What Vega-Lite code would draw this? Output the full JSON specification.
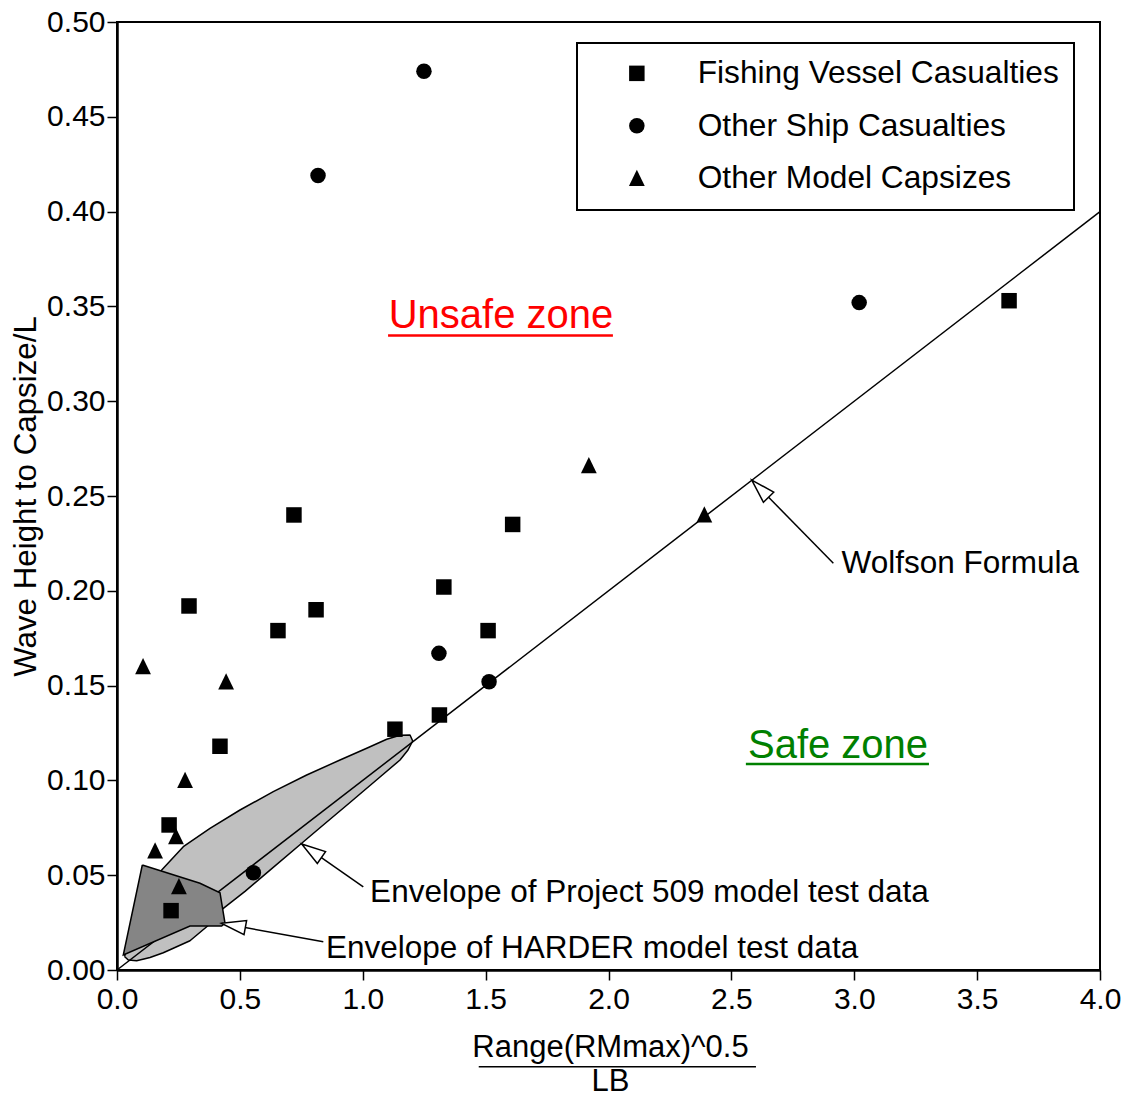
{
  "$schema": "https://vega.github.io/schema/vega-lite/v6.json",
  "width": 983,
  "height": 948,
  "autosize": {"type": "none"},
  "padding": {"left": 117, "top": 22, "right": 29, "bottom": 127},
  "background": "white",
  "config": {
    "font": "Liberation Sans",
    "view": {"stroke": "black", "strokeWidth": 2},
    "legend": {"strokeWidth": 2, "strokeColor": "black", "fillColor": "white"}
  },
  "datasets": {
    "points": [
      {"type": "Fishing Vessel Casualties", "x": 3.63, "y": 0.353},
      {"type": "Fishing Vessel Casualties", "x": 0.72, "y": 0.240},
      {"type": "Fishing Vessel Casualties", "x": 1.61, "y": 0.235},
      {"type": "Fishing Vessel Casualties", "x": 1.33, "y": 0.202},
      {"type": "Fishing Vessel Casualties", "x": 0.293, "y": 0.192},
      {"type": "Fishing Vessel Casualties", "x": 0.81, "y": 0.190},
      {"type": "Fishing Vessel Casualties", "x": 0.655, "y": 0.179},
      {"type": "Fishing Vessel Casualties", "x": 1.51, "y": 0.179},
      {"type": "Fishing Vessel Casualties", "x": 1.131, "y": 0.127},
      {"type": "Fishing Vessel Casualties", "x": 1.312, "y": 0.1345},
      {"type": "Fishing Vessel Casualties", "x": 0.419, "y": 0.118},
      {"type": "Fishing Vessel Casualties", "x": 0.212, "y": 0.0765},
      {"type": "Fishing Vessel Casualties", "x": 0.22, "y": 0.0313},
      {"type": "Other Ship Casualties", "x": 1.249, "y": 0.474},
      {"type": "Other Ship Casualties", "x": 0.818, "y": 0.419},
      {"type": "Other Ship Casualties", "x": 3.02, "y": 0.352},
      {"type": "Other Ship Casualties", "x": 1.31, "y": 0.167},
      {"type": "Other Ship Casualties", "x": 1.514, "y": 0.152},
      {"type": "Other Ship Casualties", "x": 0.555, "y": 0.0513},
      {"type": "Other Model Capsizes", "x": 1.92, "y": 0.266},
      {"type": "Other Model Capsizes", "x": 2.39, "y": 0.240},
      {"type": "Other Model Capsizes", "x": 0.106, "y": 0.160},
      {"type": "Other Model Capsizes", "x": 0.444, "y": 0.152},
      {"type": "Other Model Capsizes", "x": 0.277, "y": 0.100},
      {"type": "Other Model Capsizes", "x": 0.240, "y": 0.0703},
      {"type": "Other Model Capsizes", "x": 0.155, "y": 0.0628},
      {"type": "Other Model Capsizes", "x": 0.252, "y": 0.0439}
    ],
    "env509": [
      {"i": 0, "x": 0.0305, "y": 0.00712},
      {"i": 1, "x": 0.0610, "y": 0.01846},
      {"i": 2, "x": 0.1139, "y": 0.03692},
      {"i": 3, "x": 0.1819, "y": 0.05274},
      {"i": 4, "x": 0.2698, "y": 0.06503},
      {"i": 5, "x": 0.3784, "y": 0.07474},
      {"i": 6, "x": 0.5005, "y": 0.08439},
      {"i": 7, "x": 0.6360, "y": 0.09404},
      {"i": 8, "x": 0.7719, "y": 0.10285},
      {"i": 9, "x": 0.9074, "y": 0.11076},
      {"i": 10, "x": 1.0161, "y": 0.11693},
      {"i": 11, "x": 1.0975, "y": 0.12168},
      {"i": 12, "x": 1.1516, "y": 0.12379},
      {"i": 13, "x": 1.1923, "y": 0.12395},
      {"i": 14, "x": 1.2033, "y": 0.12078},
      {"i": 15, "x": 1.1841, "y": 0.11603},
      {"i": 16, "x": 1.1516, "y": 0.11076},
      {"i": 17, "x": 1.0702, "y": 0.10179},
      {"i": 18, "x": 0.9481, "y": 0.08834},
      {"i": 19, "x": 0.8260, "y": 0.07500},
      {"i": 20, "x": 0.7516, "y": 0.06683},
      {"i": 21, "x": 0.6226, "y": 0.05264},
      {"i": 22, "x": 0.5209, "y": 0.04146},
      {"i": 23, "x": 0.4326, "y": 0.03254},
      {"i": 24, "x": 0.3784, "y": 0.02426},
      {"i": 25, "x": 0.2970, "y": 0.01545},
      {"i": 26, "x": 0.2360, "y": 0.01187},
      {"i": 27, "x": 0.1884, "y": 0.00912},
      {"i": 28, "x": 0.1343, "y": 0.00659},
      {"i": 29, "x": 0.0802, "y": 0.00491},
      {"i": 30, "x": 0.0460, "y": 0.00527},
      {"i": 31, "x": 0.0305, "y": 0.00712}
    ],
    "harder": [
      {"i": 0, "x": 0.1030, "y": 0.05538},
      {"i": 1, "x": 0.3377, "y": 0.04573},
      {"i": 2, "x": 0.4191, "y": 0.04077},
      {"i": 3, "x": 0.4395, "y": 0.02463},
      {"i": 4, "x": 0.4260, "y": 0.02321},
      {"i": 5, "x": 0.2970, "y": 0.02321},
      {"i": 6, "x": 0.0256, "y": 0.00791},
      {"i": 7, "x": 0.1030, "y": 0.05538}
    ],
    "wolfson": [
      {"x": 0.0, "y": 0.0},
      {"x": 4.0, "y": 0.4}
    ],
    "arrows": [
      {"name": "wolfson", "end": "tail", "x": 2.915, "y": 0.2145},
      {"name": "wolfson", "end": "tip", "x": 2.583, "y": 0.2584},
      {"name": "p509", "end": "tail", "x": 1.0022, "y": 0.0439},
      {"name": "p509", "end": "tip", "x": 0.7516, "y": 0.0665},
      {"name": "harder", "end": "tail", "x": 0.8395, "y": 0.0149},
      {"name": "harder", "end": "tip", "x": 0.426, "y": 0.0246}
    ],
    "labels": [
      {"text": "Wolfson Formula", "x": 2.948, "y": 0.2092},
      {"text": "Envelope of Project 509 model test data", "x": 1.030, "y": 0.0360},
      {"text": "Envelope of HARDER model test data", "x": 0.850, "y": 0.0063}
    ],
    "unsafe": [{"text": "Unsafe zone", "x": 1.5625, "y": 0.3386, "x2": 2.018, "ux": 1.103, "uy": 0.3347}],
    "safe": [{"text": "Safe zone", "x": 2.934, "y": 0.1120, "x2": 3.304, "ux": 2.559, "uy": 0.1087}],
    "fraction": [{"x": 1.472, "x2": 2.600, "y": -0.051}]
  },
  "encoding": {
    "x": {
      "field": "x", "type": "quantitative",
      "scale": {"domain": [0, 4], "nice": false, "zero": false},
      "axis": {
        "values": [0, 0.5, 1, 1.5, 2, 2.5, 3, 3.5, 4],
        "format": ".1f",
        "grid": false,
        "labelFlush": false, "labelOverlap": false, "labelBound": false,
        "labelFontSize": 30, "labelColor": "black", "labelPadding": 4,
        "tickColor": "black", "tickSize": 10, "tickWidth": 1.5,
        "domainColor": "black", "domainWidth": 2.5,
        "title": ["Range(RMmax)^0.5", "LB"],
        "titleFontSize": 31, "titleFontWeight": "normal", "titleColor": "black",
        "titleLineHeight": 34, "titleBaseline": "alphabetic", "titleAlign": "center",
        "titleX": 493, "titleY": 86
      }
    },
    "y": {
      "field": "y", "type": "quantitative",
      "scale": {"domain": [0, 0.5], "nice": false, "zero": false},
      "axis": {
        "values": [0, 0.05, 0.1, 0.15, 0.2, 0.25, 0.3, 0.35, 0.4, 0.45, 0.5],
        "format": ".2f",
        "grid": false,
        "labelFlush": false, "labelOverlap": false, "labelBound": false,
        "labelFontSize": 30, "labelColor": "black", "labelPadding": 2,
        "tickColor": "black", "tickSize": 10, "tickWidth": 1.5,
        "domainColor": "black", "domainWidth": 2.5,
        "title": "Wave Height to Capsize/L",
        "titleFontSize": 31.3, "titleFontWeight": "normal", "titleColor": "black",
        "titleAngle": -90, "titleBaseline": "alphabetic", "titleAlign": "center",
        "titleX": -82, "titleY": 474
      }
    }
  },
  "layer": [
    {
      "data": {"name": "env509"},
      "mark": {"type": "line", "fill": "#c0c0c0", "stroke": "black", "strokeWidth": 1.5, "strokeJoin": "round"},
      "encoding": {"order": {"field": "i", "type": "quantitative"}}
    },
    {
      "data": {"name": "wolfson"},
      "mark": {"type": "line", "stroke": "black", "strokeWidth": 1.5},
      "encoding": {}
    },
    {
      "data": {"name": "harder"},
      "mark": {"type": "line", "fill": "#858585", "stroke": "black", "strokeWidth": 1.5, "strokeJoin": "miter"},
      "encoding": {"order": {"field": "i", "type": "quantitative"}}
    },
    {
      "data": {"name": "points"},
      "mark": {"type": "point", "filled": true, "color": "black", "opacity": 1, "size": 240},
      "encoding": {
        "shape": {
          "field": "type", "type": "nominal",
          "scale": {
            "domain": ["Fishing Vessel Casualties", "Other Ship Casualties", "Other Model Capsizes"],
            "range": ["square", "circle", "M0,-1.12L1.02,0.98L-1.02,0.98Z"]
          },
          "legend": {
            "title": null,
            "orient": "none", "legendX": 460, "legendY": 21,
            "padding": 14.5,
            "strokeColor": "black", "fillColor": "white",
            "labelFontSize": 31.7, "labelColor": "black", "labelLimit": 0,
            "symbolSize": 240, "symbolFillColor": "black", "symbolStrokeColor": "black", "symbolStrokeWidth": 0,
            "rowPadding": 19.5, "labelOffset": 45, "symbolOffset": 29.5
          }
        }
      }
    },
    {
      "data": {"name": "arrows"},
      "mark": {"type": "line", "stroke": "black", "strokeWidth": 1.5},
      "encoding": {"detail": {"field": "name", "type": "nominal"}}
    },
    {
      "data": {"name": "arrows"},
      "transform": [{"filter": "datum.end === 'tip' && datum.name === 'wolfson'"}],
      "mark": {"type": "point", "shape": "M0,0L0.3,1L-0.3,1Z", "size": 2304, "angle": 315.6, "filled": true, "fill": "white", "stroke": "black", "strokeWidth": 1.5, "opacity": 1}
    },
    {
      "data": {"name": "arrows"},
      "transform": [{"filter": "datum.end === 'tip' && datum.name === 'p509'"}],
      "mark": {"type": "point", "shape": "M0,0L0.3,1L-0.3,1Z", "size": 2304, "angle": 304.7, "filled": true, "fill": "white", "stroke": "black", "strokeWidth": 1.5, "opacity": 1}
    },
    {
      "data": {"name": "arrows"},
      "transform": [{"filter": "datum.end === 'tip' && datum.name === 'harder'"}],
      "mark": {"type": "point", "shape": "M0,0L0.3,1L-0.3,1Z", "size": 2304, "angle": 280.3, "filled": true, "fill": "white", "stroke": "black", "strokeWidth": 1.5, "opacity": 1}
    },
    {
      "data": {"name": "labels"},
      "mark": {"type": "text", "align": "left", "baseline": "alphabetic", "fontSize": 31.5, "color": "black"},
      "encoding": {"text": {"field": "text", "type": "nominal"}}
    },
    {
      "data": {"name": "unsafe"},
      "mark": {"type": "text", "align": "center", "baseline": "alphabetic", "fontSize": 40, "color": "#ff0000"},
      "encoding": {"text": {"field": "text", "type": "nominal"}}
    },
    {
      "data": {"name": "unsafe"},
      "mark": {"type": "rule", "color": "#ff0000", "strokeWidth": 2.5},
      "encoding": {
        "x": {"field": "ux", "type": "quantitative"},
        "x2": {"field": "x2"},
        "y": {"field": "uy", "type": "quantitative"}
      }
    },
    {
      "data": {"name": "safe"},
      "mark": {"type": "text", "align": "center", "baseline": "alphabetic", "fontSize": 40, "color": "#008000"},
      "encoding": {"text": {"field": "text", "type": "nominal"}}
    },
    {
      "data": {"name": "safe"},
      "mark": {"type": "rule", "color": "#008000", "strokeWidth": 2.5},
      "encoding": {
        "x": {"field": "ux", "type": "quantitative"},
        "x2": {"field": "x2"},
        "y": {"field": "uy", "type": "quantitative"}
      }
    },
    {
      "data": {"name": "fraction"},
      "mark": {"type": "rule", "color": "black", "strokeWidth": 1.5, "clip": false},
      "encoding": {"x2": {"field": "x2"}}
    }
  ]
}
